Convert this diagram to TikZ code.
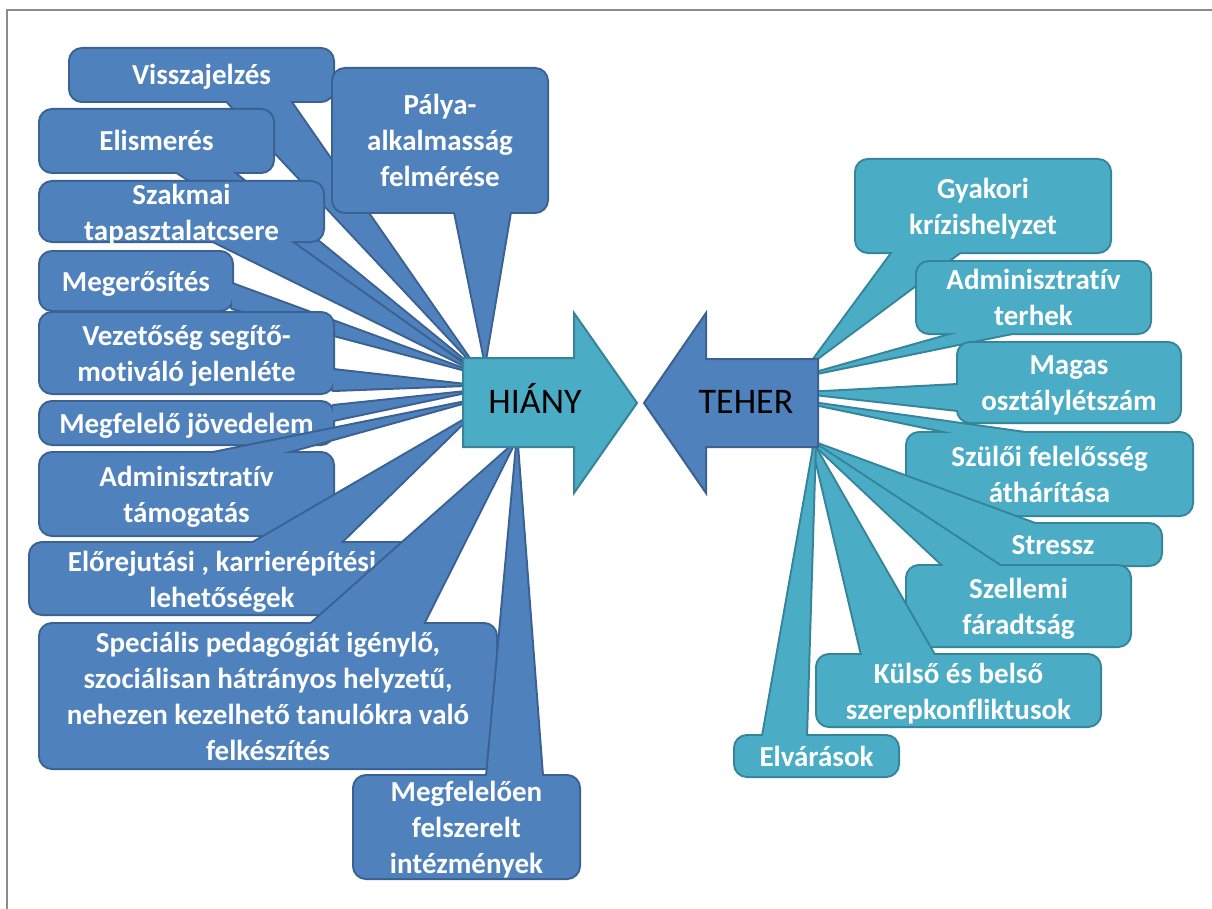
\documentclass[tikz,border=0pt]{standalone}
\usepackage{fontspec}
\setmainfont{Carlito}[RawFeature=-liga]
\usetikzlibrary{calc}
\definecolor{bfill}{HTML}{4F81BD}
\definecolor{bborder}{HTML}{3A6192}
\definecolor{cfill}{HTML}{4BACC6}
\definecolor{cborder}{HTML}{358499}
\definecolor{framegray}{HTML}{8C8C8C}
\tikzset{
  boxtext/.style={text=white, font=\fontsize{21.75}{27}\selectfont\bfseries, align=center, inner sep=0pt},
  oneline/.style={text height=15pt, text depth=0pt},
  desc/.style={yshift=-2.2pt},
  arrowtext/.style={text=black, font=\fontsize{27}{32}\selectfont, inner sep=0pt, text height=17.4pt, text depth=0pt},
}
% [#1] extra text options, #2 name, #3 colour prefix (b/c), #4 corner, #5 opposite corner, #6 base pt 1, #7 base pt 2, #8 tip, #9 text
\newcommand\mycallout[9][]{%
  \path[draw=#3border, line width=3pt, line join=round, rounded corners=9pt] (#4) rectangle (#5);
  \path[draw=#3border, line width=3pt, line join=round] (#6) -- (#8) -- (#7) -- cycle;
  \path[fill=#3fill, rounded corners=9pt] (#4) rectangle (#5);
  \path[fill=#3fill] (#6) -- (#8) -- (#7) -- cycle;
  \node[boxtext, #1] (#2) at ($(#4)!0.5!(#5)$) {#9};
}
\begin{document}
\begin{tikzpicture}[x=0.75pt, y=-0.75pt]
\useasboundingbox (0,0) rectangle (1212,909);
\fill[white] (0,0) rectangle (1212,909);
\draw[framegray, line width=1.5pt] (7,909) -- (7,10) -- (1212,10);

% left callouts
\mycallout[oneline]{v1}{b}{70,49}{333,101}{227,101}{290,101}{470,360}{Visszajelzés}
\mycallout{v2}{b}{333,69}{547,212}{455,212}{510,212}{485,360}{Pálya-\\alkalmasság\\felmérése}
\mycallout[oneline]{v3}{b}{40,110}{273,172}{177,172}{233,172}{466,362}{Elismerés}
\mycallout[desc]{v4}{b}{40,182}{323,241}{213,241}{290,241}{466,366}{Szakmai\\tapasztalatcsere}
\mycallout[oneline]{v5}{b}{40,252}{232,310}{232,284}{232,308}{466,370}{Megerősítés}
\mycallout[desc]{v6}{b}{40,313}{333,393}{333,370}{333,390}{466,385}{Vezetőség segítő-\\motiváló jelenléte}
\mycallout[oneline]{v7}{b}{40,402}{333,444}{333,406}{333,420}{466,392}{Megfelelő jövedelem}
\mycallout[desc]{v8}{b}{40,453}{333,535}{213,453}{283,453}{466,402}{Adminisztratív\\támogatás}
\mycallout[desc]{v9}{b}{30,543}{414,614}{253,543}{340,543}{468,418}{Előrejutási , karrierépítési\\lehetőségek}
\mycallout{v10}{b}{40,624}{496,768}{311,624}{423,624}{513,445}{Speciális pedagógiát igénylő,\\szociálisan hátrányos helyzetű,\\nehezen kezelhető tanulókra való\\felkészítés}
\mycallout[desc]{v11}{b}{354,776}{579,878}{487,776}{542,776}{517,445}{Megfelelően\\felszerelt\\intézmények}

% right callouts
\mycallout[desc]{t1}{c}{856,160}{1110,252}{893,252}{960,252}{812,362}{Gyakori\\krízishelyzet}
\mycallout{t2}{c}{917,262}{1150,333}{957,333}{1012,333}{812,374}{Adminisztratív\\terhek}
\mycallout[desc]{t3}{c}{958,343}{1180,422}{958,385}{958,410}{805,393}{Magas\\osztálylétszám}
\mycallout{t4}{c}{907,433}{1192,515}{953,433}{1025,433}{805,402}{Szülői felelősség\\áthárítása}
\mycallout[oneline]{t5}{c}{945,524}{1161,565}{1035,524}{1000,565}{812,442}{Stressz}
\mycallout[desc]{t6}{c}{907,566}{1130,646}{944,566}{1000,566}{812,442}{Szellemi\\fáradtság}
\mycallout[desc]{t7}{c}{817,655}{1100,726}{862,655}{934,655}{812,442}{Külső és belső\\szerepkonfliktusok}
\mycallout[oneline]{t8}{c}{735,736}{898,776}{763,736}{806,736}{815,442}{Elvárások}

% central arrows
\filldraw[fill=cfill, draw=cborder, line width=1.5pt, line join=miter]
  (463,358) -- (574,358) -- (574,313) -- (637,403) -- (574,493) -- (574,447) -- (463,447) -- cycle;
\node[arrowtext] (hiany) at (535,402) {HIÁNY};
\filldraw[fill=bfill, draw=bborder, line width=1.5pt, line join=miter]
  (818,359) -- (706,359) -- (706,313) -- (644,403) -- (706,493) -- (706,447) -- (818,447) -- cycle;
\node[arrowtext] (teher) at (746,402) {TEHER};
\end{tikzpicture}
\end{document}
